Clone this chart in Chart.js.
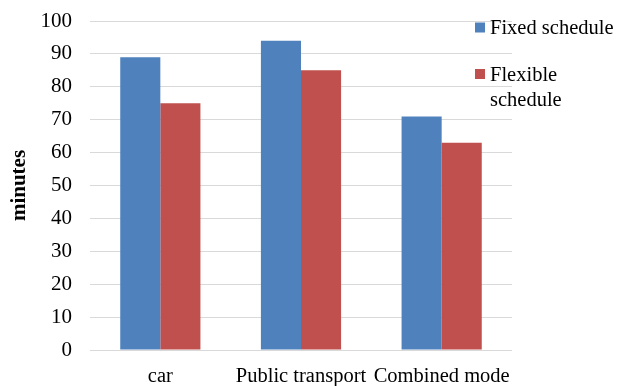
<!DOCTYPE html>
<html>
<head>
<meta charset="utf-8">
<script src="https://cdn.jsdelivr.net/npm/chart.js@4/dist/chart.umd.min.js"></script>
<style>
  html, body { margin: 0; padding: 0; background: #ffffff; }
  #wrap { width: 621px; height: 386px; position: relative; }
</style>
</head>
<body>
<div id="wrap"><canvas id="c"></canvas></div>
<script>
// Travel time by mode, in minutes
const categories = ['car', 'Public transport', 'Combined mode'];
const fixedSchedule = [89, 94, 71];
const flexibleSchedule = [75, 85, 63];
// Legend text, one entry per line
const seriesNames = [['Fixed schedule'], ['Flexible', 'schedule']];
const yTicks = [0, 10, 20, 30, 40, 50, 60, 70, 80, 90, 100];

const FONT = "'Liberation Serif', 'Times New Roman', serif";
const colors = ['#4f81bd', '#c0504d'];

// Right-side legend with wrapped item text
const sideLegend = {
  id: 'sideLegend',
  afterDraw(chart) {
    const ctx = chart.ctx;
    const area = chart.chartArea;
    const x0 = area.right - 37;
    const lineH = 25;
    let y = area.top + 6.5;
    ctx.save();
    ctx.font = '20.5px ' + FONT;
    ctx.textBaseline = 'middle';
    ctx.textAlign = 'left';
    chart.data.datasets.forEach((ds, i) => {
      const lines = seriesNames[i];
      ctx.fillStyle = ds.backgroundColor;
      ctx.fillRect(x0, y - 5, 10, 10);
      ctx.fillStyle = '#000000';
      lines.forEach((t, k) => ctx.fillText(t, x0 + 15, y + 1.5 + k * lineH));
      y += 46.5;
    });
    ctx.restore();
  }
};

new Chart(document.getElementById('c'), {
  type: 'bar',
  data: {
    labels: categories,
    datasets: [
      { label: seriesNames[0].join(' '), data: fixedSchedule, backgroundColor: colors[0], borderWidth: 0 },
      { label: seriesNames[1].join(' '), data: flexibleSchedule, backgroundColor: colors[1], borderWidth: 0 }
    ]
  },
  options: {
    responsive: true,
    maintainAspectRatio: false,
    animation: false,
    devicePixelRatio: 1,
    layout: { padding: { left: 0, right: 109, top: 21, bottom: 0 } },
    datasets: { bar: { categoryPercentage: 0.57, barPercentage: 1.0 } },
    plugins: {
      legend: { display: false },
      tooltip: { enabled: false },
      title: { display: false }
    },
    scales: {
      x: {
        grid: { display: false, drawTicks: false },
        border: { display: false },
        ticks: { color: '#000', font: { family: FONT, size: 20.5 }, padding: 14, maxRotation: 0, autoSkip: false },
        afterFit(scale) { scale.height = 36; }
      },
      y: {
        min: 0,
        max: 100,
        afterBuildTicks(scale) { scale.ticks = yTicks.map(v => ({ value: v })); },
        grid: { color: '#d9d9d9', lineWidth: 1, drawTicks: false },
        border: { display: false },
        ticks: { color: '#000', font: { family: FONT, size: 21 }, padding: 18 },
        title: {
          display: true,
          text: 'minutes',
          color: '#000',
          font: { family: FONT, size: 21, weight: 'bold' },
          padding: { top: 7, bottom: 0 }
        },
        afterFit(scale) {
          scale.width = 90;
          scale.paddingTop = 0;
          scale.paddingBottom = 0;
        }
      }
    }
  },
  plugins: [sideLegend]
});
</script>
</body>
</html>
